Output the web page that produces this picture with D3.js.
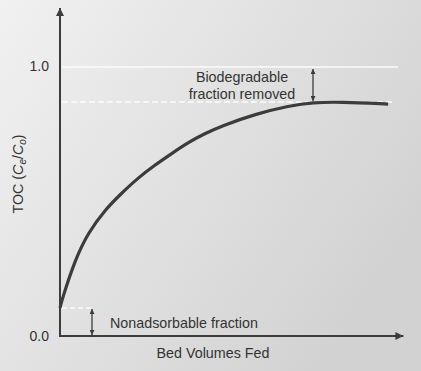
<!DOCTYPE html>
<html>
<head>
<meta charset="utf-8">
<script src="https://cdn.jsdelivr.net/npm/d3@7"></script>
<style>
  body { margin: 0; background: #e2e2e2; }
  svg { display: block; font-family: "Liberation Sans", Arial, sans-serif; }
</style>
</head>
<body>
<script>
// breakthrough curve (bed volumes in arbitrary units 0..10)
var bedVolumes = [0, 0.06, 0.44, 0.82, 1.32, 1.82, 2.29, 2.79, 3.29, 3.76, 4.26, 4.76, 5.74, 6.76, 7.44, 8.24, 9.65];
var tocRatio   = [0.104, 0.135, 0.281, 0.381, 0.467, 0.530, 0.585, 0.633, 0.676, 0.716, 0.750, 0.778, 0.822, 0.853, 0.865, 0.867, 0.859];
var yTicks = [0, 1];
var feedLevel = 1.0;         // C0
var plateau = 0.867;         // where the curve levels off
var nonAdsorbable = 0.104;   // where the curve starts

var W = 421, H = 371;
var svg = d3.select("body").append("svg").attr("width", W).attr("height", H);

var x = d3.scaleLinear().domain([0, 10]).range([60, 400]);
var y = d3.scaleLinear().domain([0, 1]).range([336, 66]);

var defs = svg.append("defs");
var grad = defs.append("linearGradient").attr("id", "paper")
  .attr("x1", 0).attr("y1", 0).attr("x2", 1).attr("y2", 0.6);
grad.append("stop").attr("offset", "0%").attr("stop-color", "#f1f1f1");
grad.append("stop").attr("offset", "45%").attr("stop-color", "#e3e3e3");
grad.append("stop").attr("offset", "100%").attr("stop-color", "#d2d2d2");

// arrow heads
function marker(id, w, h) {
  defs.append("marker").attr("id", id)
    .attr("viewBox", "0 0 10 10").attr("refX", 10).attr("refY", 5)
    .attr("markerWidth", w).attr("markerHeight", h)
    .attr("markerUnits", "userSpaceOnUse").attr("orient", "auto-start-reverse")
    .append("path").attr("d", "M0,0 L10,5 L0,10 Z").attr("fill", "#3c3c3c");
}
marker("bigArrow", 12, 8);
marker("smallArrow", 7, 5);

svg.append("rect").attr("width", W).attr("height", H).attr("fill", "url(#paper)");

var ink = "#3c3c3c";

// white reference lines
svg.append("line").attr("x1", x(0) + 2).attr("x2", 398)
  .attr("y1", y(feedLevel) + 1).attr("y2", y(feedLevel) + 1)
  .attr("stroke", "#fbfbfb").attr("stroke-width", 1.5);
svg.append("line").attr("x1", x(0) + 2).attr("x2", 394)
  .attr("y1", y(plateau)).attr("y2", y(plateau))
  .attr("stroke", "#fbfbfb").attr("stroke-width", 1.5).attr("stroke-dasharray", "6,3");
svg.append("line").attr("x1", x(0) + 2).attr("x2", 93)
  .attr("y1", y(nonAdsorbable)).attr("y2", y(nonAdsorbable))
  .attr("stroke", "#fbfbfb").attr("stroke-width", 1.5).attr("stroke-dasharray", "5,3");

// axes
svg.append("line").attr("x1", x(0)).attr("x2", x(0))
  .attr("y1", y(0) + 1).attr("y2", y(1.215))
  .attr("stroke", ink).attr("stroke-width", 2).attr("marker-end", "url(#bigArrow)");
svg.append("line").attr("x1", x(0) - 1).attr("x2", x(10.1))
  .attr("y1", y(0)).attr("y2", y(0))
  .attr("stroke", ink).attr("stroke-width", 2).attr("marker-end", "url(#bigArrow)");

var yAxis = svg.append("g").attr("transform", "translate(" + (x(0) - 8) + ",0)")
  .call(d3.axisLeft(y).tickValues(yTicks).tickSize(0).tickFormat(d3.format(".1f")));
yAxis.select(".domain").remove();
yAxis.selectAll("text").attr("font-size", 14).attr("fill", "#333")
  .attr("font-family", "Liberation Sans, Arial, sans-serif").attr("dy", "0.3em");

// the curve
var pts = bedVolumes.map(function(v, i) { return [v, tocRatio[i]]; });
svg.append("path").datum(pts)
  .attr("d", d3.line().x(function(d) { return x(d[0]); }).y(function(d) { return y(d[1]); })
    .curve(d3.curveBasis))
  .attr("fill", "none").attr("stroke", ink).attr("stroke-width", 3.2).attr("stroke-linecap", "butt");

// double arrows
svg.append("line").attr("x1", 313).attr("x2", 313)
  .attr("y1", y(feedLevel) + 3).attr("y2", y(plateau) - 1)
  .attr("stroke", ink).attr("stroke-width", 1.3)
  .attr("marker-start", "url(#smallArrow)").attr("marker-end", "url(#smallArrow)");
svg.append("line").attr("x1", 92).attr("x2", 92)
  .attr("y1", y(nonAdsorbable) + 1).attr("y2", y(0) - 1)
  .attr("stroke", ink).attr("stroke-width", 1.3)
  .attr("marker-start", "url(#smallArrow)").attr("marker-end", "url(#smallArrow)");

// labels
var txt = svg.append("g").attr("fill", "#333").attr("font-size", 14.3);
txt.append("text").attr("x", 242).attr("y", 82).attr("text-anchor", "middle").text("Biodegradable");
txt.append("text").attr("x", 242).attr("y", 99).attr("text-anchor", "middle").text("fraction removed");
txt.append("text").attr("x", 110).attr("y", 328).text("Nonadsorbable fraction");
txt.append("text").attr("x", 213).attr("y", 358).attr("text-anchor", "middle").text("Bed Volumes Fed");

var yl = txt.append("text").attr("transform", "translate(23,174) rotate(-90)").attr("text-anchor", "middle");
yl.append("tspan").text("TOC (");
yl.append("tspan").attr("font-style", "italic").text("C");
yl.append("tspan").attr("font-size", 10).attr("dy", 3).attr("font-style", "italic").text("e");
yl.append("tspan").attr("dy", -3).text("/");
yl.append("tspan").attr("font-style", "italic").text("C");
yl.append("tspan").attr("font-size", 10).attr("dy", 3).attr("font-style", "italic").text("o");
yl.append("tspan").attr("dy", -3).text(")");
</script>
</body>
</html>
